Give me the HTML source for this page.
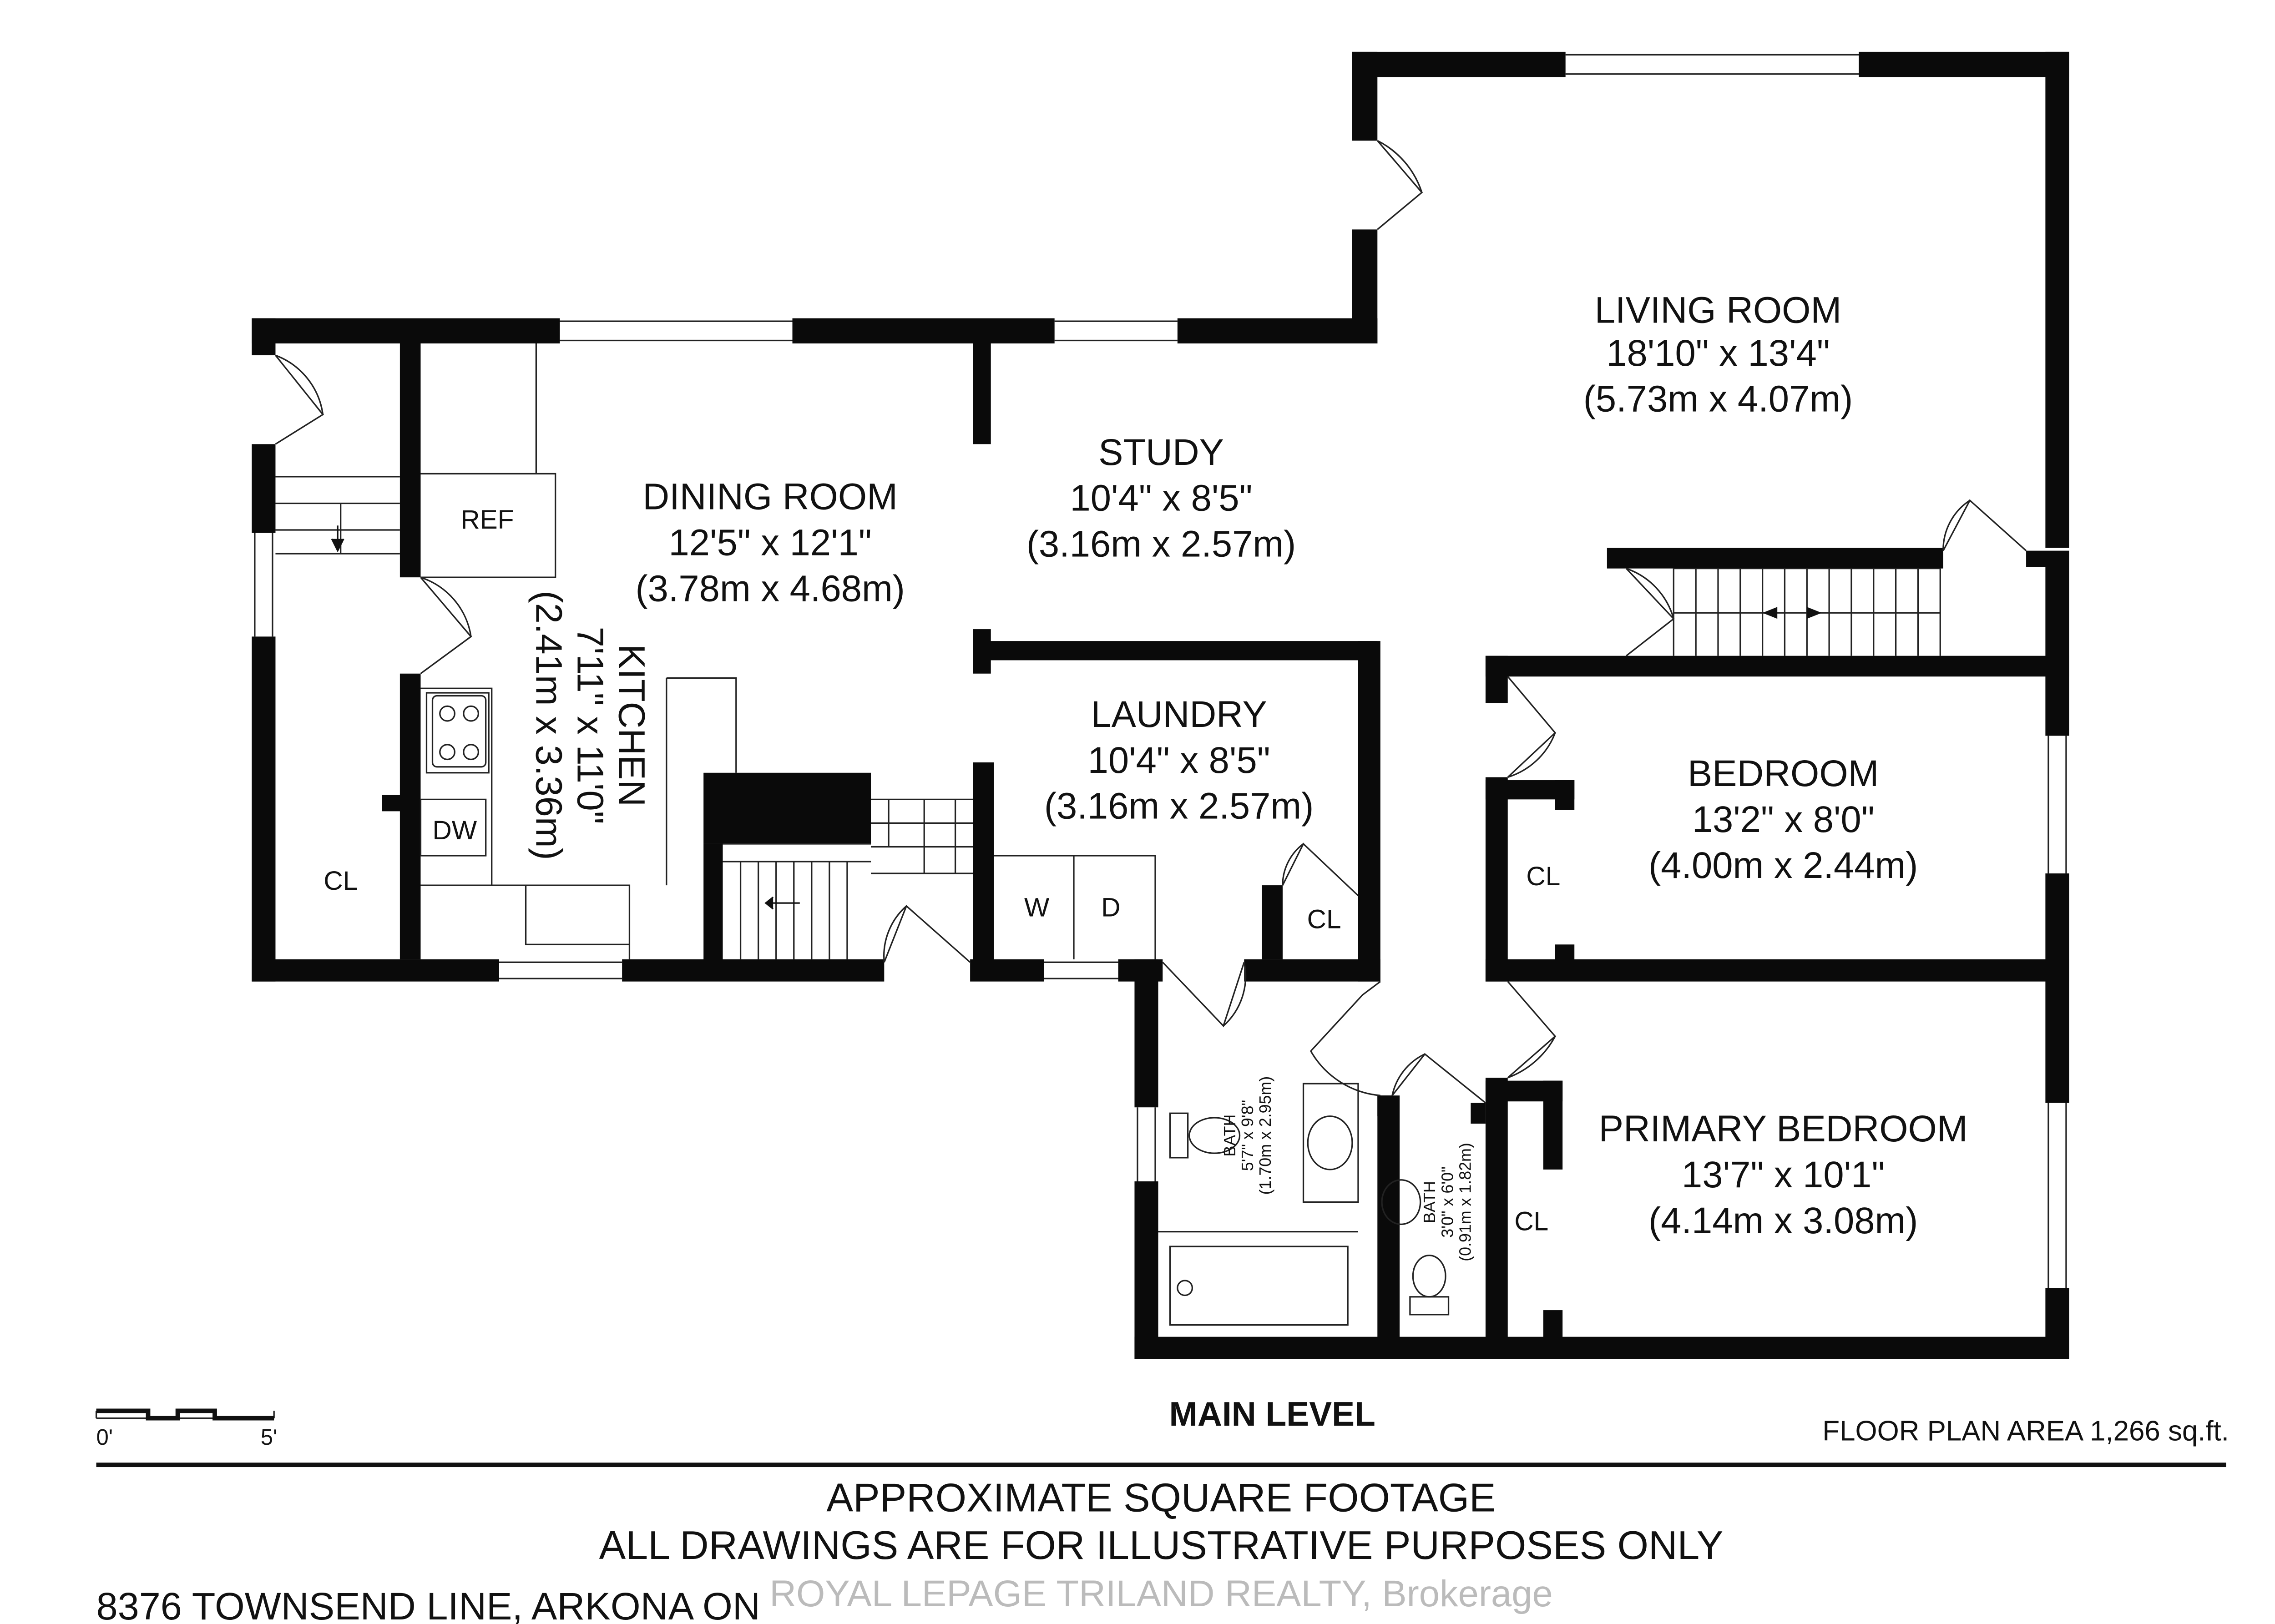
<!DOCTYPE html>
<html><head><meta charset="utf-8"><style>
html,body{margin:0;padding:0;background:#fff}
svg{display:block}
text{font-family:"Liberation Sans",sans-serif;fill:#111}
</style></head><body>
<svg width="5052" height="3570" viewBox="0 0 1552 1097" preserveAspectRatio="none" xmlns="http://www.w3.org/2000/svg">
<rect width="1552" height="1097" fill="#fff"/>
<g fill="#0a0a0a">
<rect x="170" y="215" width="208" height="17"/>
<rect x="535" y="215" width="177" height="17"/>
<rect x="795" y="215" width="135" height="17"/>
<rect x="913" y="35" width="17" height="60"/>
<rect x="913" y="155" width="17" height="77"/>
<rect x="913" y="35" width="144" height="17"/>
<rect x="1255" y="35" width="142" height="17"/>
<rect x="1381" y="35" width="16" height="335"/>
<rect x="1368" y="372" width="29" height="11"/>
<rect x="1381" y="383" width="16" height="114"/>
<rect x="1381" y="590" width="16" height="155"/>
<rect x="1381" y="870" width="16" height="48"/>
<rect x="766" y="903" width="631" height="15"/>
<rect x="766" y="648" width="16" height="100"/>
<rect x="766" y="798" width="16" height="120"/>
<rect x="170" y="215" width="16" height="25"/>
<rect x="170" y="300" width="16" height="60"/>
<rect x="170" y="430" width="16" height="233"/>
<rect x="170" y="648" width="167" height="15"/>
<rect x="420" y="648" width="177" height="15"/>
<rect x="655" y="648" width="50" height="15"/>
<rect x="755" y="648" width="30" height="15"/>
<rect x="270" y="232" width="14" height="158"/>
<rect x="270" y="455" width="14" height="193"/>
<rect x="258" y="537" width="14" height="11"/>
<rect x="475" y="522" width="113" height="48"/>
<rect x="475" y="570" width="13" height="80"/>
<rect x="657" y="232" width="12" height="68"/>
<rect x="657" y="425" width="12" height="30"/>
<rect x="657" y="433" width="273" height="13"/>
<rect x="657" y="515" width="14" height="140"/>
<rect x="917" y="433" width="15" height="230"/>
<rect x="840" y="648" width="92" height="15"/>
<rect x="852" y="598" width="14" height="50"/>
<rect x="1085" y="370" width="227" height="14"/>
<rect x="1003" y="443" width="394" height="14"/>
<rect x="1003" y="443" width="15" height="32"/>
<rect x="1003" y="525" width="15" height="138"/>
<rect x="1003" y="527" width="60" height="13"/>
<rect x="1050" y="527" width="13" height="20"/>
<rect x="1050" y="638" width="13" height="15"/>
<rect x="1003" y="648" width="394" height="15"/>
<rect x="1003" y="728" width="15" height="190"/>
<rect x="1003" y="730" width="52" height="14"/>
<rect x="1042" y="730" width="13" height="60"/>
<rect x="1042" y="885" width="13" height="20"/>
<rect x="930" y="740" width="15" height="170"/>
<rect x="930" y="740" width="10" height="14"/>
<rect x="993" y="745" width="10" height="14"/>
</g>
<g fill="none" stroke="#222" stroke-width="1">
<path d="M378 217H535M378 230H535M712 217H795M712 230H795M1057 37H1255M1057 50H1255M1383 497V590M1395 497V590M1383 745V870M1395 745V870M172 360V430M184 360V430M337 650H420M337 661H420M705 650H755M705 661H755M768 748V798M780 748V798"/>
<path d="M930 95L960 130L930 155M930 95A60 60 0 0 1 960 130"/>
<path d="M186 240L218 280L186 300M186 240A50 50 0 0 1 218 280"/>
<path d="M284 390L318 430L284 455M284 390A50 50 0 0 1 318 430"/>
<path d="M597 650L612 612L655 650M612 612A45 45 0 0 0 597 650"/>
<path d="M785 650L826 693L840 650M826 693A45 45 0 0 0 840 650"/>
<path d="M885 710L920 672L932 663M885 710A60 60 0 0 0 932 740"/>
<path d="M940 740L962 712L1003 745M962 712A40 40 0 0 0 940 740"/>
<path d="M1018 663L1050 700L1018 728M1050 700A60 60 0 0 1 1018 728"/>
<path d="M1018 457L1050 495L1018 525M1050 495A50 50 0 0 1 1018 525"/>
<path d="M1098 384L1130 418L1098 443M1098 384A50 50 0 0 1 1130 418"/>
<path d="M1312 372L1330 338L1368 372M1330 338A40 40 0 0 0 1312 372"/>
<path d="M866 598L880 570L917 605M880 570A35 35 0 0 0 866 598"/>
<path d="M284 320H375V390H284M362 232V320M284 465H332V598H425V648M284 598H332M450 458H497V522M450 458V598M355 598H425V638H355Z"/>
<path d="M288 468H330V522H288ZM284 540H328V578H284Z"/>
<path d="M186 322H270M186 340H270M186 358H270M186 374H270M230 340V374"/>
<path d="M488 570H588M488 582H588M500 582V648M512 582V648M524 582V648M536 582V648M548 582V648M560 582V648M572 582V648M588 540H657M588 556H657M588 572H657M588 590H657M600 540V572M624 540V590M645 540V590"/>
<path d="M1130 384H1310M1130 443V384M1145 384V443M1160 384V443M1175 384V443M1190 384V443M1205 384V443M1220 384V443M1235 384V443M1250 384V443M1265 384V443M1280 384V443M1295 384V443M1310 384V443M1130 414H1310"/>
<path d="M671 578H780V648M725 578V648"/>
<path d="M782 832H917M790 842H910V895H790Z M880 732H917V812H880Z"/>
<ellipse cx="898" cy="772" rx="15" ry="18"/>
<ellipse cx="820" cy="767" rx="17" ry="12"/>
<rect x="790" y="752" width="12" height="30"/>
<circle cx="800" cy="870" r="5"/>
<ellipse cx="946" cy="812" rx="13" ry="15"/>
<ellipse cx="965" cy="862" rx="11" ry="14"/>
<rect x="952" y="876" width="26" height="12"/>
<rect x="292" y="470" width="36" height="48" rx="3"/>
<circle cx="302" cy="482" r="5"/><circle cx="318" cy="482" r="5"/><circle cx="302" cy="508" r="5"/><circle cx="318" cy="508" r="5"/>
<path d="M65 958H185M65 953V958M185 953V958"/>
</g>
<path d="M228 355V372M224 364L228 372L232 364" stroke="#111" fill="#111"/>
<path d="M517 610H540M522 606L517 610L522 614" stroke="#111" fill="#111"/>
<path d="M1190 414L1200 410V418Z M1230 414L1220 410V418Z" fill="#111"/>
<path d="M65 953H100V958H120V953H145V958H185" stroke="#111" stroke-width="3" fill="none"/>
<rect x="65" y="988" width="1438" height="3" fill="#111"/>
<g font-size="25" text-anchor="middle">
<text x="1160" y="218">LIVING ROOM</text>
<text x="1160" y="247">18'10" x 13'4"</text>
<text x="1160" y="278">(5.73m x 4.07m)</text>
<text x="784" y="314">STUDY</text>
<text x="784" y="345">10'4" x 8'5"</text>
<text x="784" y="376">(3.16m x 2.57m)</text>
<text x="520" y="344">DINING ROOM</text>
<text x="520" y="375">12'5" x 12'1"</text>
<text x="520" y="406">(3.78m x 4.68m)</text>
<text x="796" y="491">LAUNDRY</text>
<text x="796" y="522">10'4" x 8'5"</text>
<text x="796" y="553">(3.16m x 2.57m)</text>
<text x="1204" y="531">BEDROOM</text>
<text x="1204" y="562">13'2" x 8'0"</text>
<text x="1204" y="593">(4.00m x 2.44m)</text>
<text x="1204" y="771">PRIMARY BEDROOM</text>
<text x="1204" y="802">13'7" x 10'1"</text>
<text x="1204" y="833">(4.14m x 3.08m)</text>
<g transform="translate(418,490) rotate(90)"><text x="0" y="0">KITCHEN</text><text x="0" y="28">7'11" x 11'0"</text><text x="0" y="56">(2.41m x 3.36m)</text></g>
</g>
<g font-size="18" text-anchor="middle">
<text x="329" y="357">REF</text><text x="230" y="601">CL</text><text x="307" y="567">DW</text>
<text x="700" y="619">W</text><text x="750" y="619">D</text><text x="894" y="627">CL</text>
<text x="1042" y="598">CL</text><text x="1034" y="831">CL</text>
</g>
<g font-size="11" text-anchor="middle">
<g transform="translate(834,767) rotate(-90)"><text y="0">BATH</text><text y="12">5'7" x 9'8"</text><text y="24">(1.70m x 2.95m)</text></g>
<g transform="translate(969,812) rotate(-90)"><text y="0">BATH</text><text y="12">3'0" x 6'0"</text><text y="24">(0.91m x 1.82m)</text></g>
</g>
<text x="859" y="963" font-size="23" font-weight="bold" text-anchor="middle">MAIN LEVEL</text>
<text x="1505" y="973" font-size="19" text-anchor="end">FLOOR PLAN AREA 1,266 sq.ft.</text>
<text x="65" y="976" font-size="15">0'</text><text x="176" y="976" font-size="15">5'</text>
<g font-size="27" text-anchor="middle" style="fill:#666">
<text x="784" y="1021">APPROXIMATE SQUARE FOOTAGE</text>
<text x="784" y="1053">ALL DRAWINGS ARE FOR ILLUSTRATIVE PURPOSES ONLY</text>
</g>
<text x="65" y="1094" font-size="26">8376 TOWNSEND LINE, ARKONA ON</text>
<text x="784" y="1085" font-size="25" text-anchor="middle" style="fill:#bbb">ROYAL LEPAGE TRILAND REALTY, Brokerage</text>
</svg>
</body></html>
